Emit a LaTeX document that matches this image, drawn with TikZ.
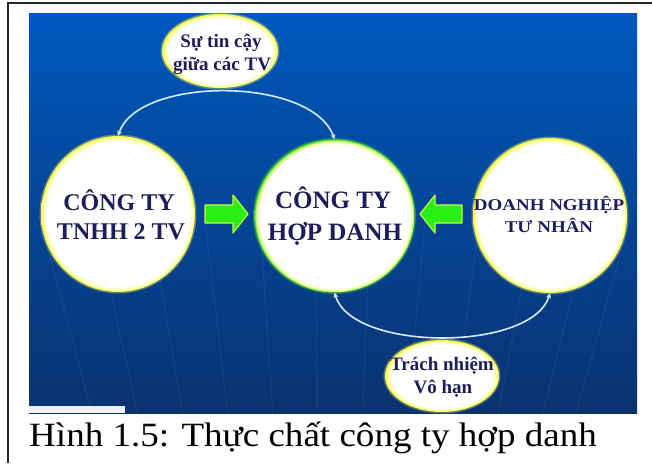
\documentclass[tikz,border=0pt]{standalone}
\usepackage{fontspec}
\setmainfont{Liberation Serif}
\usetikzlibrary{shapes.geometric,arrows.meta}
\definecolor{bgtop}{RGB}{0,88,190}
\definecolor{bgmid}{RGB}{6,72,155}
\definecolor{bgbot}{RGB}{10,50,112}
\definecolor{ink}{RGB}{30,28,90}
\definecolor{glowyel}{RGB}{245,245,70}
\definecolor{glowgrn}{RGB}{70,225,40}
\definecolor{arrgreen}{RGB}{40,240,20}
\definecolor{arredge}{RGB}{200,250,70}
\definecolor{arcblue}{RGB}{215,235,255}
\pgfdeclareradialshading{glowYbig}{\pgfpoint{0bp}{0bp}}{color(0bp)=(white); color(23.2bp)=(white); color(24.2bp)=(yellow!30!white); color(25bp)=(glowyel); color(50bp)=(glowyel)}
\pgfdeclareradialshading{glowYsmall}{\pgfpoint{0bp}{0bp}}{color(0bp)=(white); color(22bp)=(white); color(23.8bp)=(yellow!35!white); color(25bp)=(glowyel); color(50bp)=(glowyel)}
\pgfdeclareradialshading{glowGbig}{\pgfpoint{0bp}{0bp}}{color(0bp)=(white); color(23.2bp)=(white); color(24.1bp)=(yellow!25!white); color(24.6bp)=(green!40!yellow!60!white); color(25bp)=(glowgrn); color(50bp)=(glowgrn)}
\tikzset{
  bubble/.style={ellipse, inner sep=0pt, shade, shading=glowYbig,
    preaction={draw=glowyel, line width=3pt, opacity=0.35}},
  bubblesmall/.style={ellipse, inner sep=0pt, shade, shading=glowYsmall,
    preaction={draw=glowyel, line width=3pt, opacity=0.35}},
  bubblegreen/.style={ellipse, inner sep=0pt, shade, shading=glowGbig,
    preaction={draw=glowgrn, line width=3pt, opacity=0.4}},
  bigtxt/.style={anchor=base, inner sep=0pt, text=ink, font=\fontsize{24pt}{28pt}\selectfont\bfseries},
  midtxt/.style={anchor=base, inner sep=0pt, text=ink, font=\fontsize{16.5pt}{20pt}\selectfont\bfseries},
  smalltxt/.style={anchor=base, inner sep=0pt, text=ink, font=\fontsize{19pt}{22pt}\selectfont\bfseries},
  link/.style={draw=arcblue, line width=1.6pt, {Stealth[length=5pt,width=5pt]}-{Stealth[length=5pt,width=5pt]}},
  blockarrow/.style={fill=arrgreen, draw=arredge, line width=1.2pt, line join=round},
  streak/.style={draw=white, opacity=0.07, line width=0.8pt}
}
\begin{document}
\begin{tikzpicture}[x=1pt,y=-1pt]
\useasboundingbox (0,0) rectangle (652,463);
\fill[white] (0,0) rectangle (652,463);
% blue panel
\shade[top color=bgtop, middle color=bgmid, bottom color=bgbot] (29,13) rectangle (637,413);
\begin{scope}
\clip (29,13) rectangle (637,413);
\foreach \xx in {40,95,150,205,260,315,370,425,480,535,590,630}
  \draw[streak] (\xx,220) -- ({\xx-(\xx-330)*0.18},413);
\end{scope}
\fill[white!94!blue] (29,406) rectangle (125,413);
% frame
\draw[line width=2pt, draw=black!85] (652,3) -- (8,3) -- (8,463);
% bubbles
\node[bubble, minimum width=154pt, minimum height=156pt] (L) at (118,214) {};
\node[bubblegreen, minimum width=160pt, minimum height=153pt] (C) at (334.5,216) {};
\node[bubble, minimum width=154pt, minimum height=155pt] (R) at (550,215.5) {};
\node[bubblesmall, minimum width=116pt, minimum height=74pt] (T) at (220,51) {};
\node[bubblesmall, minimum width=114pt, minimum height=72pt] (B) at (442,376) {};
% links
\draw[link] (L.north) .. controls (138,76) and (312,76) .. (C.north);
\draw[link] (C.south) .. controls (352,352) and (532,352) .. (R.south);
% block arrows
\draw[blockarrow] (205,205) -- (233,205) -- (233,195) -- (248,214) -- (233,233) -- (233,223) -- (205,223) -- cycle;
\draw[blockarrow] (462,205) -- (435,205) -- (435,195) -- (420,214) -- (435,233) -- (435,223) -- (462,223) -- cycle;
% texts
\node[bigtxt] (l1) at (119,210) {CÔNG TY};
\node[bigtxt] (l2) at (121,239) {TNHH 2 TV};
\node[bigtxt, font=\fontsize{25pt}{29pt}\selectfont\bfseries] (c1) at (333,208) {CÔNG TY};
\node[bigtxt, font=\fontsize{25pt}{29pt}\selectfont\bfseries] (c2) at (335,240) {HỢP DANH};
\node[midtxt] (r1) at (549,210) {\scalebox{1.15}[1]{DOANH NGHIỆP}};
\node[midtxt] (r2) at (549,232) {\scalebox{1.15}[1]{TƯ NHÂN}};
\node[smalltxt] (t1) at (221,47) {Sự tin cậy};
\node[smalltxt] (t2) at (222,70) {giữa các TV};
\node[smalltxt] (b1) at (442,370) {Trách nhiệm};
\node[smalltxt] (b2) at (443,393) {Vô hạn};
% caption
\node[anchor=base west, inner sep=0pt, font=\fontsize{34pt}{40pt}\selectfont] (cap) at (29,446) {\scalebox{1.09}[1]{Hình 1.5: Thực chất công ty hợp danh}};
\end{tikzpicture}
\end{document}
